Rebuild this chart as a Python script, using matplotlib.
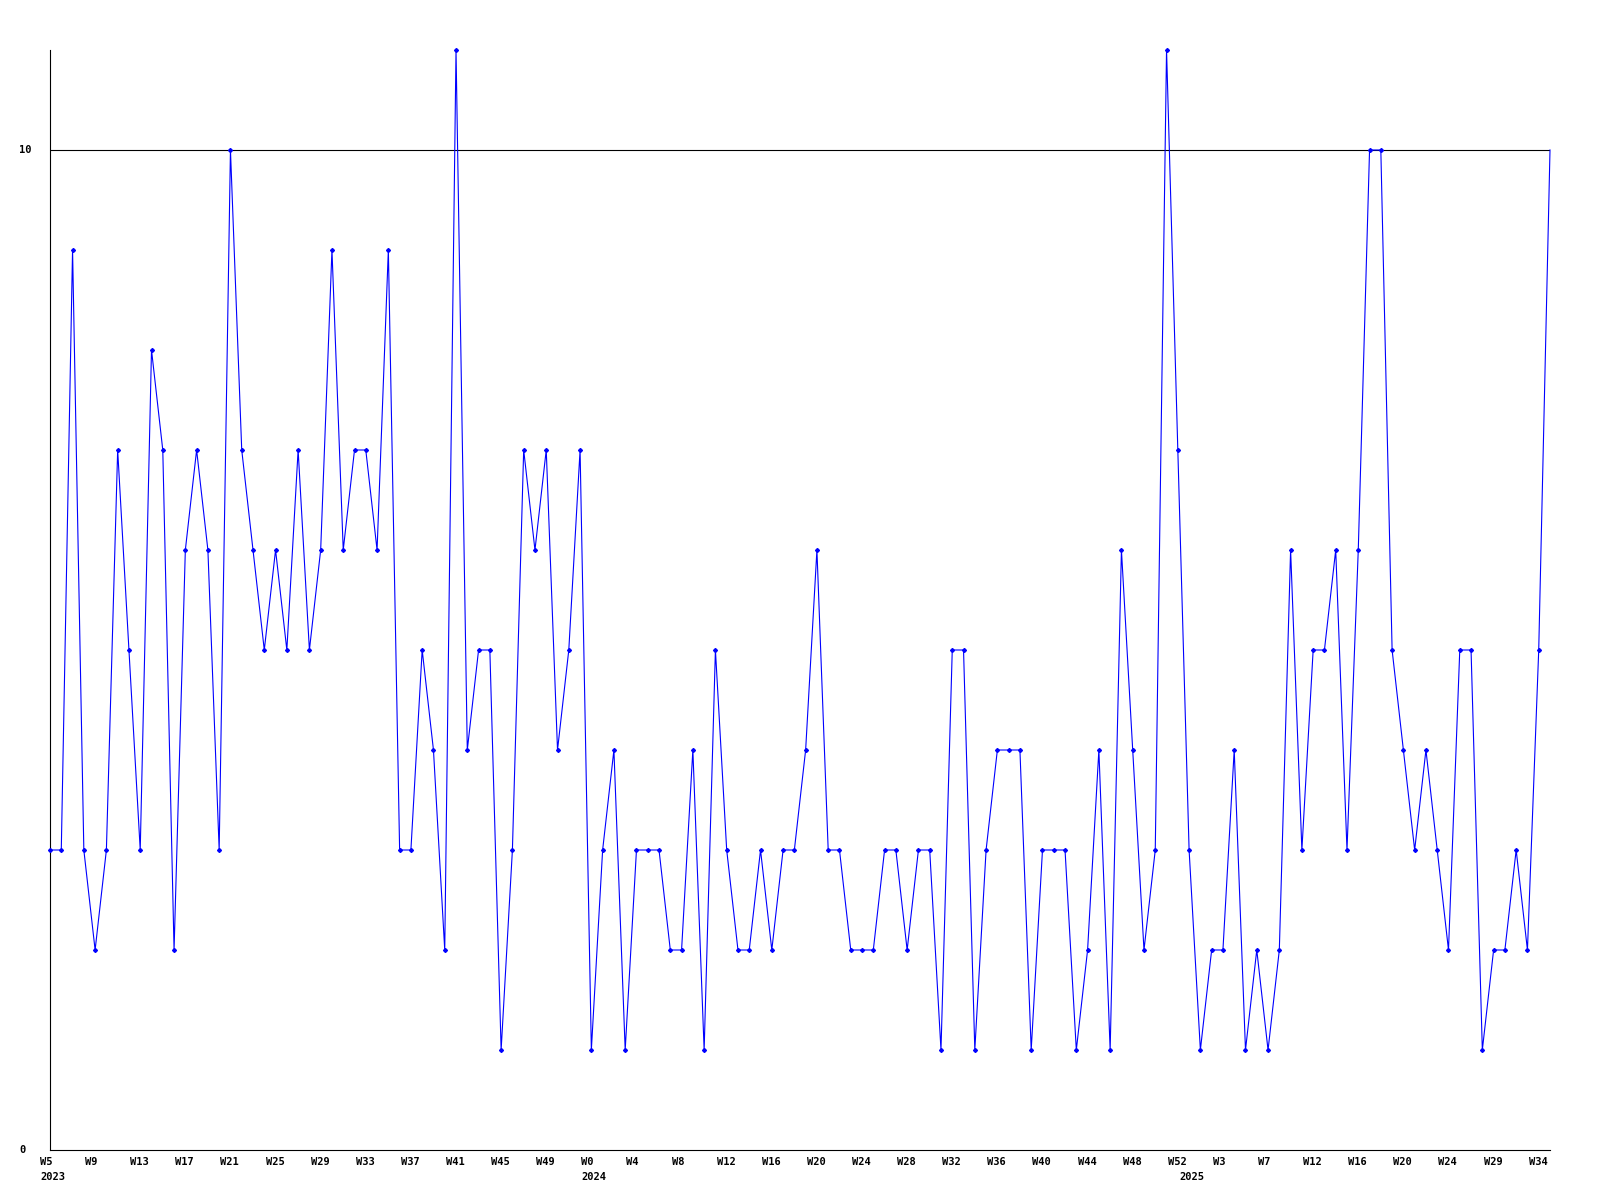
import matplotlib
matplotlib.use("Agg")
import matplotlib.pyplot as plt
import matplotlib.transforms as mtransforms

# ---- data ----
values = [3, 3, 9, 3, 2, 3, 7, 5, 3, 8, 7, 2, 6, 7, 6, 3, 10, 7, 6, 5,
          6, 5, 7, 5, 6, 9, 6, 7, 7, 6, 9, 3, 3, 5, 4, 2, 11, 4, 5, 5,
          1, 3, 7, 6, 7, 4, 5, 7, 1, 3, 4, 1, 3, 3, 3, 2, 2, 4, 1, 5,
          3, 2, 2, 3, 2, 3, 3, 4, 6, 3, 3, 2, 2, 2, 3, 3, 2, 3, 3, 1,
          5, 5, 1, 3, 4, 4, 4, 1, 3, 3, 3, 1, 2, 4, 1, 6, 4, 2, 3, 11,
          7, 3, 1, 2, 2, 4, 1, 2, 1, 2, 6, 3, 5, 5, 6, 3, 6, 10, 10, 5,
          4, 3, 4, 3, 2, 5, 5, 1, 2, 2, 3, 2, 5, 10]

week_labels = ["W5", "W9", "W13", "W17", "W21", "W25", "W29", "W33", "W37", "W41",
               "W45", "W49", "W0", "W4", "W8", "W12", "W16", "W20", "W24", "W28",
               "W32", "W36", "W40", "W44", "W48", "W52", "W3", "W7", "W12", "W16",
               "W20", "W24", "W29", "W34"]
label_step = 4

year_labels = ["2023", "2024", "2025"]
year_index = [0, 48, 101]

y_labels = ["0", "10"]
y_label_values = [0, 10]
ref_line = 10

# ---- figure ----
fig = plt.figure(figsize=(16, 12), dpi=100)
W, H = 1600, 1200
ax = fig.add_axes([50 / W, 50 / H, 1500 / W, 1100 / H])

x = list(range(len(values)))
ax.plot(x, values, color="#0000ff", linewidth=0.8, marker="D", markersize=2.0,
        markevery=list(range(len(values) - 1)), clip_on=False, zorder=3)
ax.axhline(ref_line, color="black", linewidth=0.8, zorder=2)

ax.set_xlim(0, len(values) - 1)
ax.set_ylim(0, 11)
for s in ["top", "right"]:
    ax.spines[s].set_visible(False)
for s in ["left", "bottom"]:
    ax.spines[s].set_linewidth(0.8)
    ax.spines[s].set_color("black")
ax.set_xticks([])
ax.set_yticks([])

font = dict(family="DejaVu Sans Mono", fontweight="bold", fontsize=7.5, color="black")

# x labels: left-aligned, starting 10 px left of their point
base = mtransforms.blended_transform_factory(ax.transData, fig.transFigure)
off = mtransforms.ScaledTranslation(-10 / 100, 0, fig.dpi_scale_trans)
for i, lab in enumerate(week_labels):
    ax.text(i * label_step, 1 - 1157 / H, lab, transform=base + off,
            ha="left", va="top", **font)
for idx, lab in zip(year_index, year_labels):
    ax.text(idx, 1 - 1172 / H, lab, transform=base + off,
            ha="left", va="top", **font)

# y labels
ybase = mtransforms.blended_transform_factory(fig.transFigure, ax.transData)
for v, lab in zip(y_label_values, y_labels):
    ax.text(19 / W, v, lab, transform=ybase, ha="left", va="center", **font)

fig.savefig("out.png", dpi=100, facecolor="white")
